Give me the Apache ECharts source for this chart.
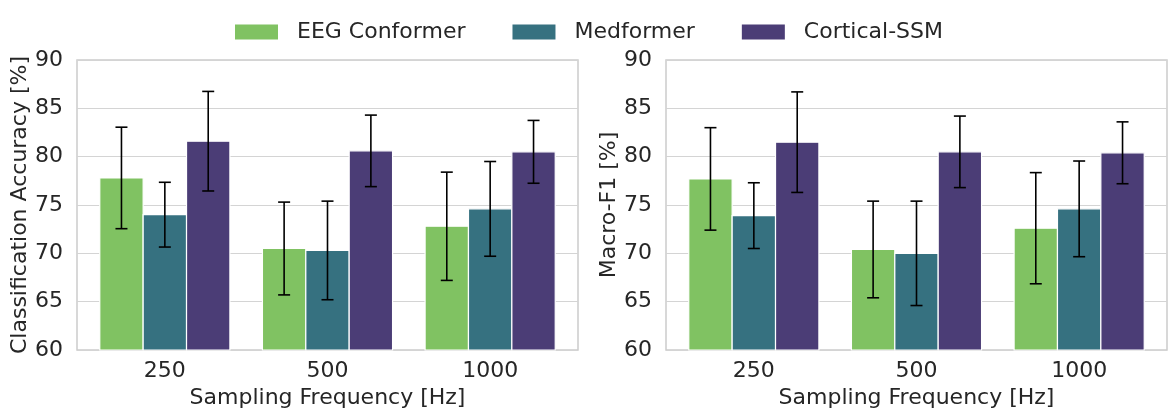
<!DOCTYPE html>
<html>
<head>
<meta charset="utf-8">
<script src="https://cdn.jsdelivr.net/npm/echarts@6/dist/echarts.min.js"></script>
<style>
  html, body { margin: 0; padding: 0; background: #fff; }
  #chart { width: 1176px; height: 419px; }
</style>
</head>
<body>
<div id="chart"></div>
<script>
// data
const categories = ['250', '500', '1000'];
const models = ['EEG Conformer', 'Medformer', 'Cortical-SSM'];
const colors = ['#80c262', '#367180', '#4b3d76'];

// classification accuracy (mean / std)
const accMean = [
  [77.8, 70.5, 72.8],
  [74.0, 70.3, 74.6],
  [81.6, 80.6, 80.5]
];
const accStd = [
  [5.25, 4.8, 5.6],
  [3.35, 5.1, 4.9],
  [5.15, 3.7, 3.25]
];

// macro-F1 (mean / std)
const f1Mean = [
  [77.7, 70.4, 72.6],
  [73.9, 70.0, 74.6],
  [81.5, 80.5, 80.4]
];
const f1Std = [
  [5.3, 5.0, 5.75],
  [3.4, 5.4, 4.95],
  [5.2, 3.7, 3.2]
];

const yTicks = [60, 65, 70, 75, 80, 85, 90];
const xRange = [-0.54, 2.54];
const barW = 0.8 / 3;
const textColor = '#262626';
const fontFamily = 'DejaVu Sans';
const fs = 22;

function barSeries(k, name, mean, gi) {
  return {
    type: 'custom',
    name: name,
    xAxisIndex: gi,
    yAxisIndex: gi,
    itemStyle: { color: colors[k] },
    data: mean.map((m, i) => [i, m]),
    renderItem: function (params, api) {
      const x = api.value(0) + (k - 1) * barW;
      const p0 = api.coord([x - barW / 2, api.value(1)]);
      const p1 = api.coord([x + barW / 2, yTicks[0]]);
      return {
        type: 'rect',
        shape: { x: p0[0], y: p0[1], width: p1[0] - p0[0], height: p1[1] - p0[1] },
        style: { fill: colors[k], stroke: '#ffffff', lineWidth: 1.2 }
      };
    }
  };
}

function errorBars(k, mean, std, gi) {
  return {
    type: 'custom',
    xAxisIndex: gi,
    yAxisIndex: gi,
    z: 10,
    silent: true,
    data: mean.map((m, i) => [i, m - std[i], m + std[i]]),
    renderItem: function (params, api) {
      const x = api.value(0) + (k - 1) * barW;
      const top = api.coord([x, api.value(2)]);
      const bot = api.coord([x, api.value(1)]);
      const cx = top[0];
      const cap = 6;
      const st = { stroke: '#000', lineWidth: 1.6 };
      return {
        type: 'group',
        children: [
          { type: 'line', shape: { x1: cx, y1: top[1], x2: cx, y2: bot[1] }, style: st },
          { type: 'line', shape: { x1: cx - cap, y1: top[1], x2: cx + cap, y2: top[1] }, style: st },
          { type: 'line', shape: { x1: cx - cap, y1: bot[1], x2: cx + cap, y2: bot[1] }, style: st }
        ]
      };
    }
  };
}

const chart = echarts.init(document.getElementById('chart'));

const grids = [
  { left: 77, right: 598, top: 60, bottom: 69 },
  { left: 666, right: 9, top: 60, bottom: 69 }
];
const yNames = ['Classification Accuracy [%]', 'Macro-F1 [%]'];

const xAxes = grids.map((g, i) => ({
  type: 'value',
  gridIndex: i,
  min: xRange[0],
  max: xRange[1],
  name: 'Sampling Frequency [Hz]',
  nameLocation: 'middle',
  nameGap: 35,
  nameTextStyle: { color: textColor, fontSize: fs, fontFamily: fontFamily },
  axisLine: { show: false },
  axisTick: { show: false },
  splitLine: { show: false },
  axisLabel: {
    customValues: [0, 1, 2],
    formatter: v => categories[Math.round(v)],
    color: textColor, fontSize: fs, fontFamily: fontFamily, margin: 10
  }
}));

const yAxes = grids.map((g, i) => ({
  type: 'value',
  gridIndex: i,
  min: yTicks[0],
  max: yTicks[yTicks.length - 1],
  interval: 5,
  name: yNames[i],
  nameLocation: 'middle',
  nameGap: 46,
  nameTextStyle: { color: textColor, fontSize: fs, fontFamily: fontFamily },
  axisLine: { show: false },
  axisTick: { show: false },
  axisLabel: { color: textColor, fontSize: fs, fontFamily: fontFamily, margin: 14 },
  splitLine: { lineStyle: { color: '#d4d4d4', width: 1.2 } }
}));

const series = [];
[[accMean, accStd], [f1Mean, f1Std]].forEach(function (pair, gi) {
  models.forEach(function (name, k) {
    series.push(barSeries(k, name, pair[0][k], gi));
  });
  models.forEach(function (name, k) {
    series.push(errorBars(k, pair[0][k], pair[1][k], gi));
  });
});

const option = {
  animation: false,
  backgroundColor: '#ffffff',
  legend: {
    data: models,
    left: 230,
    top: 16,
    itemWidth: 43,
    itemHeight: 15,
    itemGap: 47,
    icon: 'rect',
    textStyle: { color: textColor, fontSize: fs, fontFamily: fontFamily, padding: [0, 0, 0, 14] }
  },
  grid: grids.map(g => Object.assign({ show: true, borderColor: '#cccccc', borderWidth: 1.5 }, g)),
  xAxis: xAxes,
  yAxis: yAxes,
  series: series
};

chart.setOption(option);
window.addEventListener('resize', function () {
  chart.resize();
});
</script>
</body>
</html>
